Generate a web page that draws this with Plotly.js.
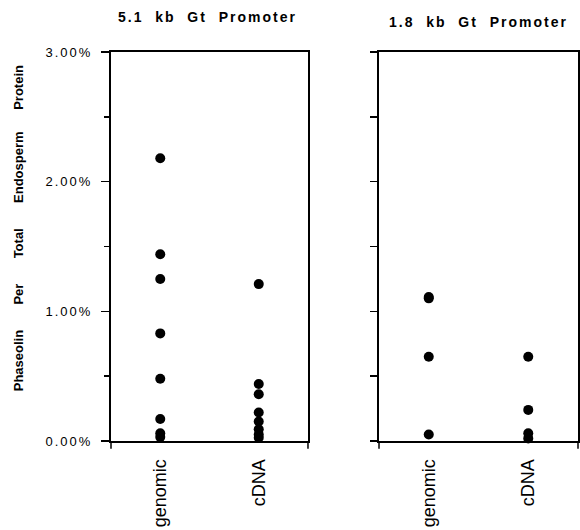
<!DOCTYPE html>
<html>
<head>
<meta charset="utf-8">
<script src="https://cdn.plot.ly/plotly-3.0.1.min.js"></script>
<style>
html,body{margin:0;padding:0;background:#fff;}
#chart{width:580px;height:530px;}
.annotation[data-index="0"] text,.annotation[data-index="1"] text{letter-spacing:2px;}
.ytick text{letter-spacing:2px;}
</style>
</head>
<body>
<div id="chart"></div>
<script>
// Data (percent of total endosperm protein)
const categories = ["genomic", "cDNA"];
const panelTitles = ["5.1\u00a0\u00a0kb\u00a0\u00a0Gt\u00a0\u00a0Promoter", "1.8\u00a0\u00a0kb\u00a0\u00a0Gt\u00a0\u00a0Promoter"];
const yTitle = "Phaseolin\u00a0\u00a0\u00a0\u00a0\u00a0\u00a0\u00a0Per\u00a0\u00a0\u00a0\u00a0\u00a0\u00a0\u00a0Total\u00a0\u00a0\u00a0\u00a0\u00a0\u00a0\u00a0Endosperm\u00a0\u00a0\u00a0\u00a0\u00a0\u00a0Protein";
const yTickVals = [0, 1, 2, 3];
const yTickText = ["0.00%", "1.00%", "2.00%", "3.00%"];

const gt51Genomic = [2.18, 1.44, 1.25, 0.83, 0.48, 0.17, 0.06, 0.03];
const gt51CDNA = [1.21, 0.44, 0.36, 0.22, 0.15, 0.09, 0.05, 0.025];
const gt18Genomic = [1.11, 1.10, 0.65, 0.05];
const gt18CDNA = [0.65, 0.24, 0.06, 0.02];

function rep(cat, n) { return Array(n).fill(cat); }

const FONT = "Liberation Sans, Arial, Helvetica, sans-serif";
const marker = {color: "#000", size: 10, symbol: "circle"};
const traces = [
  {x: rep(categories[0], gt51Genomic.length), y: gt51Genomic, xaxis: "x", yaxis: "y"},
  {x: rep(categories[1], gt51CDNA.length), y: gt51CDNA, xaxis: "x", yaxis: "y"},
  {x: rep(categories[0], gt18Genomic.length), y: gt18Genomic, xaxis: "x2", yaxis: "y2"},
  {x: rep(categories[1], gt18CDNA.length), y: gt18CDNA, xaxis: "x2", yaxis: "y2"}
].map(t => Object.assign({type: "scatter", mode: "markers", marker: marker, showlegend: false, hoverinfo: "none", cliponaxis: false}, t));

const xBase = {
  type: "category", categoryorder: "array", categoryarray: categories,
  range: [-0.5, 1.5], showgrid: false, zeroline: false,
  showline: true, linecolor: "#000", linewidth: 2, mirror: true,
  ticks: "", tickangle: -90, ticklabelstandoff: 9,
  tickfont: {family: FONT, size: 18, color: "#000"}
};
const yBase = {
  range: [0, 3], showgrid: false, zeroline: false,
  showline: true, linecolor: "#000", linewidth: 2, mirror: true,
  ticks: "outside", tickcolor: "#000", tickwidth: 1.5
};

const layout = {
  width: 580, height: 530,
  margin: {l: 111, r: 2, t: 52, b: 89},
  paper_bgcolor: "#fff", plot_bgcolor: "#fff",
  font: {family: FONT, color: "#000"},
  xaxis: Object.assign({}, xBase, {domain: [0, 0.4218], anchor: "y"}),
  xaxis2: Object.assign({}, xBase, {domain: [0.5739, 1], anchor: "y2"}),
  yaxis: Object.assign({}, yBase, {
    domain: [0, 1], anchor: "x",
    tickmode: "array", tickvals: yTickVals, ticktext: yTickText, ticklen: 8,
    ticklabelstandoff: 6,
    tickfont: {family: FONT, size: 13, color: "#000"},
    minor: {dtick: 0.5, ticks: "outside", ticklen: 5, tickcolor: "#000", tickwidth: 1.5}
  }),
  yaxis2: Object.assign({}, yBase, {
    domain: [0, 1], anchor: "x2",
    tickmode: "linear", tick0: 0, dtick: 0.5, ticklen: 7, showticklabels: false
  }),
  annotations: [
    {text: panelTitles[0], xref: "paper", yref: "paper", x: 0.2077, y: 1.09, showarrow: false,
     xanchor: "center", yanchor: "middle", font: {family: FONT, size: 14, weight: "bold", color: "#000"}},
    {text: panelTitles[1], xref: "paper", yref: "paper", x: 0.7859, y: 1.077, showarrow: false,
     xanchor: "center", yanchor: "middle", font: {family: FONT, size: 14, weight: "bold", color: "#000"}},
    {text: yTitle, xref: "paper", yref: "paper", x: -0.199, y: 0.547, showarrow: false, textangle: -90,
     xanchor: "center", yanchor: "middle", font: {family: FONT, size: 13, weight: "bold", color: "#000"}}
  ],
  shapes: [
    {type: "line", xref: "x domain", yref: "paper", x0: 0, x1: 0, y0: 0, y1: -0.02, line: {color: "#000", width: 1.5}},
    {type: "line", xref: "x domain", yref: "paper", x0: 1, x1: 1, y0: 0, y1: -0.02, line: {color: "#000", width: 1.5}},
    {type: "line", xref: "x2 domain", yref: "paper", x0: 0, x1: 0, y0: 0, y1: -0.02, line: {color: "#000", width: 1.5}},
    {type: "line", xref: "x2 domain", yref: "paper", x0: 1, x1: 1, y0: 0, y1: -0.02, line: {color: "#000", width: 1.5}}
  ]
};

Plotly.newPlot("chart", traces, layout, {staticPlot: true, displayModeBar: false});
</script>
</body>
</html>
